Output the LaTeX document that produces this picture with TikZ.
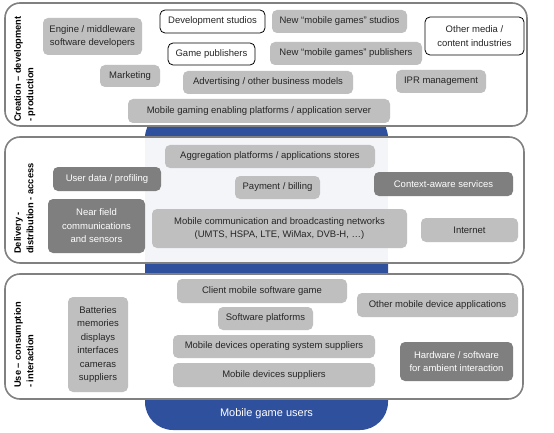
\documentclass[tikz,border=0pt]{standalone}
\usepackage{fontspec}
\setmainfont{Liberation Sans}
\definecolor{boxgray}{HTML}{BFBFBF}
\definecolor{darkgray2}{HTML}{7F7F7F}
\definecolor{panelline}{HTML}{808080}
\definecolor{userblue}{HTML}{2F509C}
\definecolor{lightcol}{HTML}{F3F5F9}
\definecolor{txt}{HTML}{262626}
\tikzset{
  base/.style={rounded corners=5pt, inner sep=0pt, align=center, font=\fontsize{9.5}{13.5}\selectfont},
  lbox/.style={base, fill=boxgray, text=txt},
  dbox/.style={base, fill=darkgray2, text=white},
  wbox/.style={base, fill=white, draw=black, line width=0.8pt, text=txt},
  panel/.style={draw=panelline, line width=1.6pt, rounded corners=15pt},
  sidelabel/.style={rotate=90, anchor=north west, align=left, inner sep=0pt, text=black, font=\bfseries\fontsize{9.3}{12.5}\selectfont},
}
\newcommand{\bx}[6]{\node[#1, minimum width=#4pt, minimum height=#5pt] (#2) at (#3) {#6};}
\begin{document}
\begin{tikzpicture}[x=1pt,y=-1pt]
\useasboundingbox (0,0) rectangle (554,433);
% blue column
\fill[userblue, rounded corners=28pt] (145,110) -- (145,430) -- (388,430) -- (388,110) -- cycle;
% panels background
\fill[white, rounded corners=15pt] (5,3) rectangle (527,126);
\fill[white, rounded corners=15pt] (5,137) rectangle (524,263);
\fill[white, rounded corners=15pt] (5,274) rectangle (523,399);
\fill[lightcol] (145,138) rectangle (388,262);
\draw[panel] (5,3) rectangle (527,126);
\draw[panel] (5,137) rectangle (524,263);
\draw[panel] (5,274) rectangle (523,399);
% side labels
\node[sidelabel] (lab1) at (14,122) {Creation – development\\- production};
\node[sidelabel] (lab2) at (14,254) {Delivery -\\distribution - access};
\node[sidelabel] (lab3) at (14,388) {Use – consumption\\- interaction};
% top panel
\bx{lbox}{eng}{92.5,36.5}{99}{37}{Engine / middleware\\software developers}
\bx{wbox}{dev}{212.5,21.5}{105}{23}{Development studios}
\bx{wbox}{gpub}{211.5,54}{87}{22}{Game publishers}
\bx{lbox}{nstud}{339.5,21.5}{135}{23}{New “mobile games” studios}
\bx{lbox}{npub}{346,53.5}{152}{23}{New “mobile games” publishers}
\bx{wbox}{media}{474.5,36}{99}{38}{Other media /\\content industries}
\bx{lbox}{mkt}{130,76}{60}{22}{Marketing}
\bx{lbox}{adv}{268,82.5}{170}{23}{Advertising / other business models}
\bx{lbox}{ipr}{441,81.5}{90}{23}{IPR management}
\bx{lbox}{mgep}{259,111}{262}{24}{Mobile gaming enabling platforms / application server}
% middle panel
\bx{lbox}{agg}{270,156.5}{210}{23}{Aggregation platforms / applications stores}
\bx{dbox}{udata}{107,179}{108}{24}{User data / profiling}
\bx{lbox}{pay}{277.5,187.5}{85}{23}{Payment / billing}
\bx{dbox}{ctx}{443.5,184}{139}{24}{Context-aware services}
\bx{dbox}{nfc}{96.5,226}{97}{54}{Near field\\communications\\and sensors}
\bx{lbox}{mcbn}{279.5,228.5}{255}{39}{Mobile communication and broadcasting networks\\(UMTS, HSPA, LTE, WiMax, DVB-H, …)}
\bx{lbox}{inet}{469.5,230}{97}{24}{Internet}
% bottom panel
\bx{lbox}{client}{262,291}{170}{24}{Client mobile software game}
\bx{lbox}{other}{437.5,305}{161}{24}{Other mobile device applications}
\bx{lbox}{swp}{265.5,318.5}{95}{23}{Software platforms}
\bx{lbox}{batt}{98,344.5}{60}{95}{Batteries\\memories\\displays\\interfaces\\cameras\\suppliers}
\bx{lbox}{os}{274,346.5}{202}{23}{Mobile devices operating system suppliers}
\bx{dbox}{hw}{456.5,361.5}{113}{39}{Hardware / software\\for ambient interaction}
\bx{lbox}{mds}{274,375}{202}{24}{Mobile devices suppliers}
% users
\node[text=white, font=\fontsize{11}{12}\selectfont, inner sep=0pt] (users) at (266.5,414) {Mobile game users};
\end{tikzpicture}
\end{document}
